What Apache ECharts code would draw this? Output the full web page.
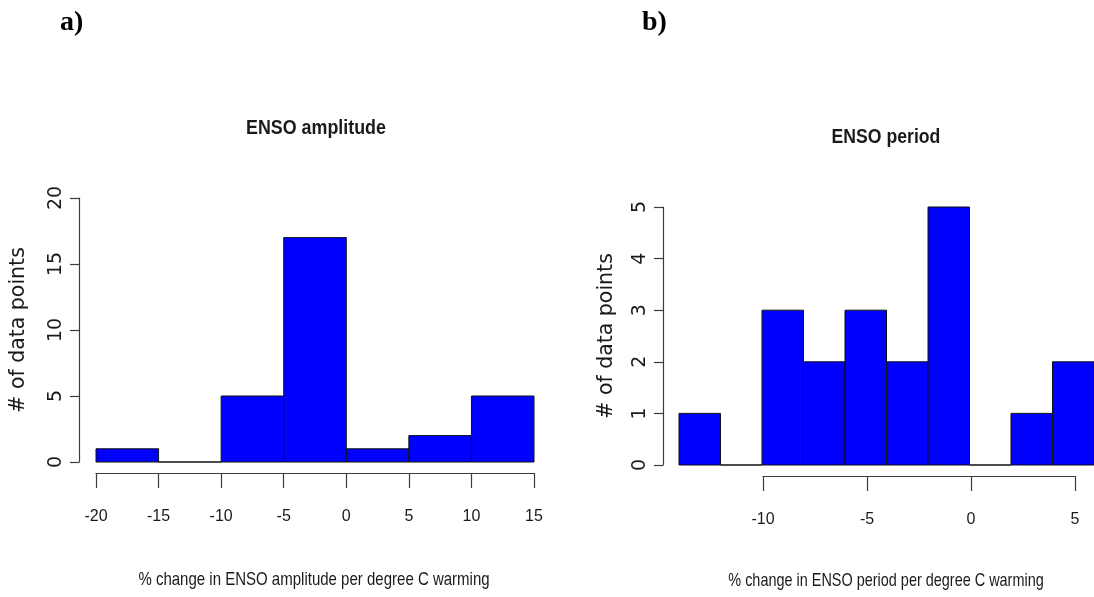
<!DOCTYPE html>
<html>
<head>
<meta charset="utf-8">
<title>ENSO amplitude and period histograms</title>
<script src="https://cdn.jsdelivr.net/npm/echarts@6/dist/echarts.min.js"></script>
<style>
  html, body { margin: 0; padding: 0; background: #fff; }
  #chart { width: 1094px; height: 597px; }
</style>
</head>
<body>
<div id="chart"></div>
<script>
// Histogram a): % change in ENSO amplitude per degree C warming
const ampBinEdges = [-20, -15, -10, -5, 0, 5, 10, 15];
const ampCounts = [1, 0, 5, 17, 1, 2, 5];
const ampXTicks = [-20, -15, -10, -5, 0, 5, 10, 15];
const ampYTicks = [0, 5, 10, 15, 20];

// Histogram b): % change in ENSO period per degree C warming
const perBinEdges = [-14, -12, -10, -8, -6, -4, -2, 0, 2, 4, 6];
const perCounts = [1, 0, 3, 2, 3, 2, 5, 0, 1, 2];
const perXTicks = [-10, -5, 0, 5];
const perYTicks = [0, 1, 2, 3, 4, 5];

const panelLetters = ['a)', 'b)'];
const panelTitles = ['ENSO amplitude', 'ENSO period'];
const xTitles = [
  '% change in ENSO amplitude per degree C warming',
  '% change in ENSO period per degree C warming'
];
const yTitle = '# of data points';

// Pair each bin's edges with its count: [left, right, count]
function toBins(edges, counts) {
  return counts.map((c, i) => [edges[i], edges[i + 1], c]);
}

const AXIS = '#3c3c3c';
const TEXT = '#1a1a1a';
const SANS = '"Liberation Sans", Arial, sans-serif';
const WIDE = '"DejaVu Sans", "Liberation Sans", sans-serif';

function histRender(params, api) {
  const x0 = api.value(0), x1 = api.value(1), n = api.value(2);
  const p0 = api.coord([x0, 0]);
  const p1 = api.coord([x1, n]);
  return {
    type: 'rect',
    shape: { x: p0[0], y: p1[1], width: p1[0] - p0[0], height: p0[1] - p1[1] },
    style: { fill: '#0000ff', stroke: '#111', lineWidth: 1 }
  };
}

function yAxisDef(gridIndex, ticks, offset, nameGap) {
  return {
    type: 'value', gridIndex,
    min: ticks[0], max: ticks[ticks.length - 1], interval: ticks[1] - ticks[0],
    offset,
    splitLine: { show: false },
    axisLine: { show: true, onZero: false, lineStyle: { color: AXIS, width: 1.2 } },
    axisTick: { show: true, length: 9, lineStyle: { color: AXIS, width: 1.2 } },
    axisLabel: { rotate: 90, margin: 13, color: TEXT, fontFamily: WIDE, fontSize: 19 },
    name: yTitle, nameLocation: 'middle', nameRotate: 90, nameGap,
    nameTextStyle: { color: TEXT, fontFamily: WIDE, fontSize: 20.5 }
  };
}

function tickAxisDef(gridIndex, ticks) {
  return {
    type: 'value', gridIndex,
    min: ticks[0], max: ticks[ticks.length - 1], interval: ticks[1] - ticks[0],
    offset: 11,
    splitLine: { show: false },
    axisLine: { show: true, onZero: false, lineStyle: { color: AXIS, width: 1.2 } },
    axisTick: { show: true, length: 15, lineStyle: { color: AXIS, width: 1.2 } },
    axisLabel: { margin: 36, color: TEXT, fontFamily: SANS, fontSize: 16 }
  };
}

function dataAxisDef(gridIndex, edges) {
  return {
    type: 'value', gridIndex,
    min: edges[0], max: edges[edges.length - 1],
    axisLine: { show: false }, axisTick: { show: false },
    axisLabel: { show: false }, splitLine: { show: false }
  };
}

// Horizontally condensed text, centred on (x, y)
function narrowText(str, x, y, size, weight, squeeze) {
  return {
    type: 'text', x, y, scaleX: squeeze, scaleY: 1, silent: true,
    style: {
      text: str, fill: TEXT, align: 'center', verticalAlign: 'middle',
      font: weight + ' ' + size + 'px ' + SANS
    }
  };
}

const chart = echarts.init(document.getElementById('chart'), null, { renderer: 'canvas' });

chart.setOption({
  animation: false,
  backgroundColor: '#ffffff',
  graphic: [
    { type: 'text', left: 60, top: 9,
      style: { text: panelLetters[0], font: 'bold 28px "Liberation Serif", "DejaVu Serif", serif', fill: '#000' } },
    { type: 'text', left: 642, top: 9,
      style: { text: panelLetters[1], font: 'bold 28px "Liberation Serif", "DejaVu Serif", serif', fill: '#000' } },
    narrowText(panelTitles[0], 316, 128, 21, 'bold', 0.85),
    narrowText(panelTitles[1], 886, 137, 21, 'bold', 0.84),
    narrowText(xTitles[0], 314, 580, 19, 'normal', 0.79),
    narrowText(xTitles[1], 886, 581, 19, 'normal', 0.76)
  ],
  grid: [
    // a) data area
    { left: 96, width: 438, top: 198, height: 264 },
    // b) data area
    { left: 679, width: 416, top: 207, height: 258 },
    // b) ticked x axis spanning only -10..5
    { left: 763, width: 312, top: 207, height: 258 }
  ],
  xAxis: [
    tickAxisDef(0, ampXTicks),
    dataAxisDef(1, perBinEdges),
    tickAxisDef(2, perXTicks)
  ],
  yAxis: [
    yAxisDef(0, ampYTicks, 17, 50),
    yAxisDef(1, perYTicks, 16, 46),
    { type: 'value', gridIndex: 2, min: 0, max: 5, show: false }
  ],
  series: [
    { type: 'custom', xAxisIndex: 0, yAxisIndex: 0, clip: false,
      renderItem: histRender, data: toBins(ampBinEdges, ampCounts) },
    { type: 'custom', xAxisIndex: 1, yAxisIndex: 1, clip: false,
      renderItem: histRender, data: toBins(perBinEdges, perCounts) }
  ]
});
</script>
</body>
</html>
